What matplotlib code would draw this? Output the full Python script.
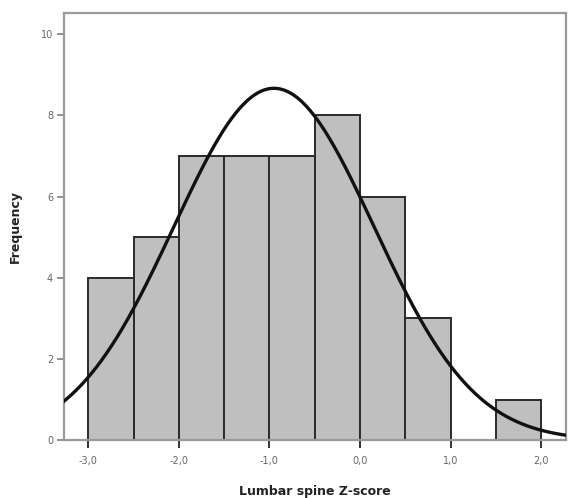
import numpy as np
import matplotlib.pyplot as plt

# Histogram data (bin edges every 0.5 from -3.0 to 2.0)
bin_edges = [-3.0, -2.5, -2.0, -1.5, -1.0, -0.5, 0.0, 0.5, 1.0, 1.5, 2.0]
counts = [4, 5, 7, 7, 7, 8, 6, 3, 0, 1]

# Fitted normal curve parameters
mean_z = -0.95
sd_z = 1.105

x_ticks = [-3.0, -2.0, -1.0, 0.0, 1.0, 2.0]
x_tick_labels = ['-3,0', '-2,0', '-1,0', '0,0', '1,0', '2,0']
y_ticks = [0, 2, 4, 6, 8, 10]

fig = plt.figure(figsize=(5.68, 4.98), dpi=100)
ax = fig.add_axes([0.113, 0.116, 0.884, 0.858])

edges = np.array(bin_edges)
widths = np.diff(edges)
ax.bar(edges[:-1], counts, width=widths, align='edge',
       color='#bfbfbf', edgecolor='#2a2a2a', linewidth=1.4, zorder=2)

# Normal curve scaled to the histogram
n_total = sum(counts)
xs = np.linspace(-3.3, 2.3, 400)
ys = n_total * widths[0] / (sd_z * np.sqrt(2 * np.pi)) * np.exp(-0.5 * ((xs - mean_z) / sd_z) ** 2)
ax.plot(xs, ys, color='#111111', linewidth=2.4, zorder=3)

ax.set_xlim(-3.265, 2.276)
ax.set_ylim(0, 10.52)

ax.set_xticks(x_ticks)
ax.set_xticklabels(x_tick_labels)
ax.set_yticks(y_ticks)

for s in ax.spines.values():
    s.set_color('#9a9a9a')
    s.set_linewidth(1.6)

ax.tick_params(axis='x', length=6, width=1.3, color='#222222', labelsize=7,
               labelcolor='#666666', pad=5)
ax.tick_params(axis='y', length=5, width=1.3, color='#888888', labelsize=7,
               labelcolor='#666666', pad=3)

ax.set_xlabel('Lumbar spine Z-score', fontsize=9, fontweight='bold', color='#222222', labelpad=14)
ax.set_ylabel('Frequency', fontsize=9, fontweight='bold', color='#222222', labelpad=14)

fig.savefig('out.png', dpi=100)
